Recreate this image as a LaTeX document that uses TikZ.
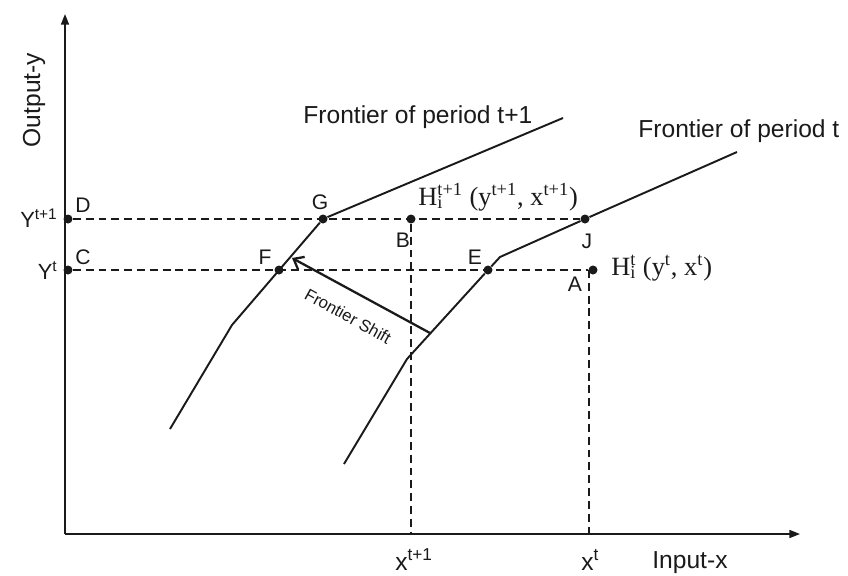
\documentclass[tikz,border=0pt]{standalone}
\usepackage{fontspec}
\setmainfont{Liberation Sans}
\newfontfamily\timesfont{Liberation Serif}
\usetikzlibrary{arrows.meta}
\definecolor{ink}{HTML}{1A1A1A}
\newcommand{\fsz}[1]{\fontsize{#1}{#1}\selectfont}
\newcommand{\Hsym}[2]{H\rlap{\textsubscript{#1}}\textsuperscript{#2}}

\begin{document}
\begin{tikzpicture}[x=0.02cm,y=-0.02cm,
  frontier/.style={ink,line width=1.1pt,line join=round},
  guide/.style={ink,line width=0.8pt,dash pattern=on 4.5pt off 2.8pt},
  axis/.style={ink,line width=0.9pt,-{Triangle[length=6pt,width=4.5pt]}},
  dot/.style={circle,fill=ink,inner sep=0pt,minimum size=1.8mm},
  lbl/.style={font=\fsz{12pt},text=ink,inner sep=0pt},
  hlbl/.style={font=\timesfont\fsz{15pt},text=ink,inner sep=0pt,anchor=base west}]
\useasboundingbox (0,0) rectangle (848,575);
% axes
\coordinate (O) at (65,534);
\coordinate (ytop) at (65,14);
\coordinate (xend) at (800,534);
\draw[axis] (O) -- (ytop);
\draw[axis] (O) -- (xend);
\node[font=\fsz{14pt},text=ink,rotate=90] (ylab) at (34,100) {Output-y};
\node[font=\fsz{14pt},text=ink,anchor=base west,inner sep=0pt] (xlab) at (652,568) {Input-x};
% points
\node[dot] (D) at (68,219) {};
\node[dot] (C) at (68,270) {};
\node[dot] (G) at (323,219) {};
\node[dot] (B) at (411,219) {};
\node[dot] (F) at (279,270) {};
\node[dot] (E) at (488,270) {};
\node[dot] (J) at (585,219) {};
\node[dot] (A) at (593,270) {};
\coordinate (Bx) at (411,534);
\coordinate (Ax) at (589,534);
\coordinate (Ay) at (589,270);
% guide lines
\draw[guide] (D) -- (J);
\draw[guide] (C) -- (A);
\draw[guide] (B) -- (Bx);
\draw[guide] (Ay) -- (Ax);
% frontiers
\draw[frontier] (170,429) -- (232,325) -- (G) -- (563,118);
\draw[frontier] (344,464) -- (407,359) -- (E) -- (500,257) -- (J) -- (737,152);
% shift
\coordinate (shiftS) at (430,333);
\coordinate (shiftE) at (292,258);
\draw[ink,line width=1.3pt,-{Straight Barb[length=5pt,width=8pt]}] (shiftS) -- (shiftE);
\node[font=\fsz{9.5pt},text=ink,rotate=-29] (shiftlab) at (348,316) {Frontier Shift};
% labels
\node[font=\fsz{14pt},text=ink,anchor=base west,inner sep=0pt] (ft1) at (303,123) {Frontier of period t+1};
\node[font=\fsz{14pt},text=ink,anchor=base west,inner sep=0pt] (ft) at (638,137) {Frontier of period t};
\node[lbl] (lD) at (83,205) {D};
\node[lbl] (lC) at (83,257) {C};
\node[lbl] (lG) at (320,202) {G};
\node[lbl] (lB) at (403,240) {B};
\node[lbl] (lF) at (265,257) {F};
\node[lbl] (lE) at (475,257) {E};
\node[lbl] (lJ) at (587,241) {J};
\node[lbl] (lA) at (575,284) {A};
\node[font=\fsz{12.5pt},text=ink,anchor=base east,inner sep=0pt] (ly1) at (58,227) {Y\textsuperscript{t+1}};
\node[font=\fsz{12.5pt},text=ink,anchor=base east,inner sep=0pt] (ly0) at (58,279) {Y\textsuperscript{t}};
\node[font=\fsz{14pt},text=ink,anchor=base west,inner sep=0pt] (lx1) at (395,570) {x\textsuperscript{t+1}};
\node[font=\fsz{14pt},text=ink,anchor=base west,inner sep=0pt] (lx0) at (581,570) {x\textsuperscript{t}};
\node[hlbl] (H1) at (418,205) {\Hsym{i}{t+1} (y\textsuperscript{t+1}, x\textsuperscript{t+1})};
\node[hlbl] (H0) at (611,275) {\Hsym{i}{t} (y\textsuperscript{t}, x\textsuperscript{t})};
\end{tikzpicture}
\end{document}
